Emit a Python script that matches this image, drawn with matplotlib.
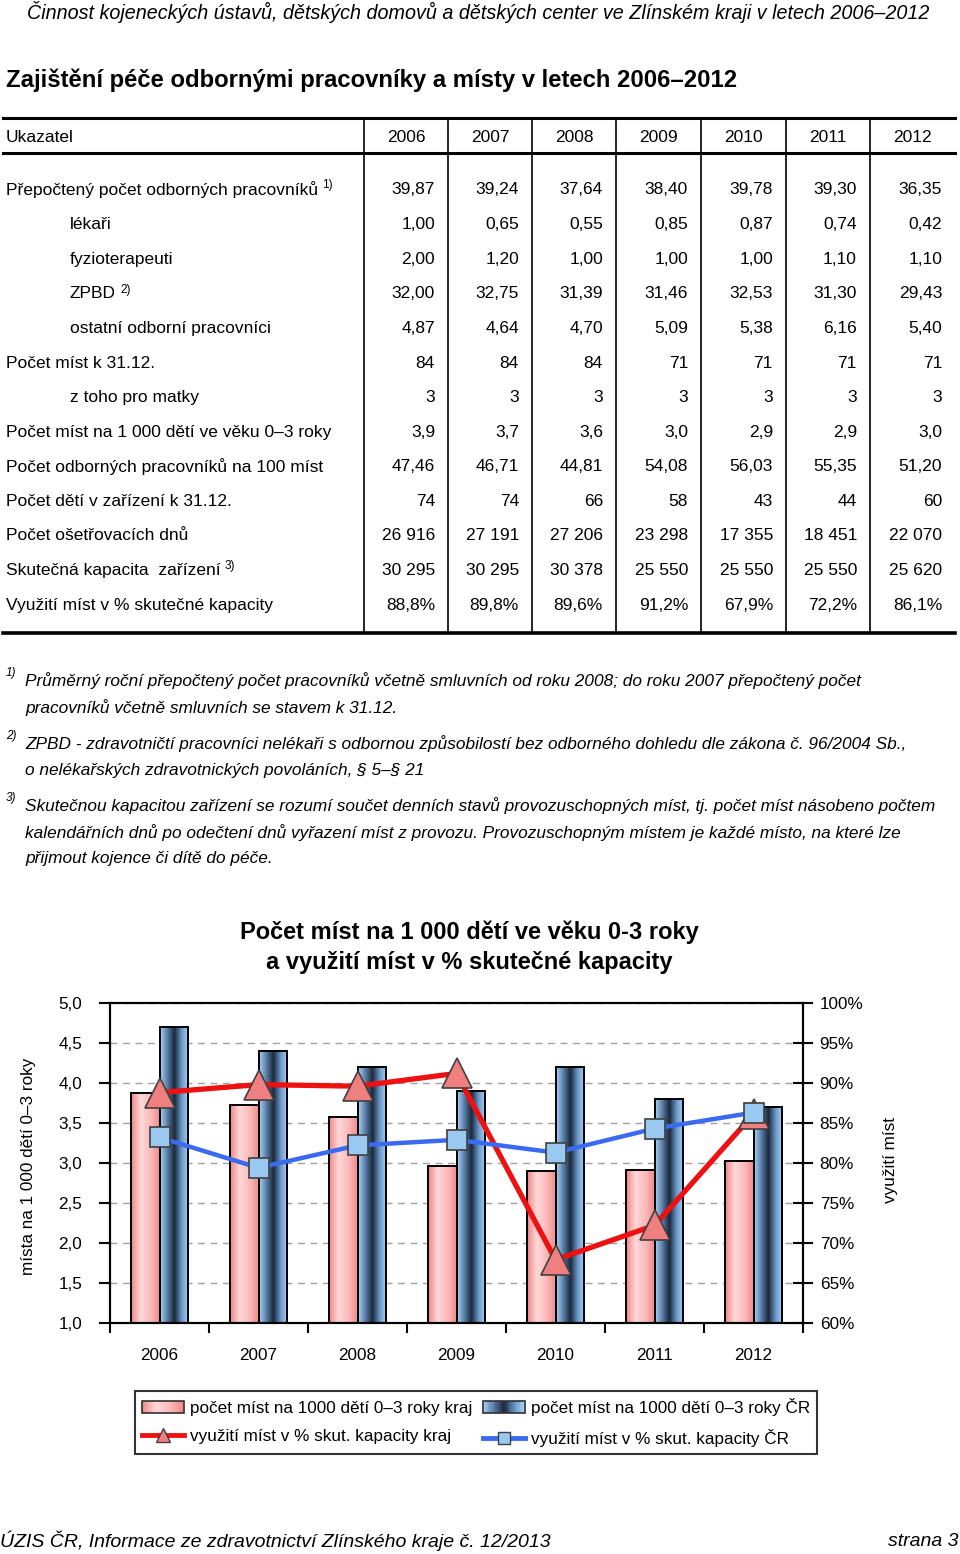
import numpy as np
import matplotlib
matplotlib.use('Agg')
import matplotlib.pyplot as plt
from matplotlib import font_manager
from matplotlib.colors import LinearSegmentedColormap
from matplotlib.lines import Line2D
from matplotlib.patches import Patch, Rectangle
from matplotlib.legend_handler import HandlerBase

# --- data ---------------------------------------------------------------
years = ['2006', '2007', '2008', '2009', '2010', '2011', '2012']

prepocteny = [39.87, 39.24, 37.64, 38.40, 39.78, 39.30, 36.35]
lekari = [1.00, 0.65, 0.55, 0.85, 0.87, 0.74, 0.42]
fyzio = [2.00, 1.20, 1.00, 1.00, 1.00, 1.10, 1.10]
zpbd = [32.00, 32.75, 31.39, 31.46, 32.53, 31.30, 29.43]
ostatni = [4.87, 4.64, 4.70, 5.09, 5.38, 6.16, 5.40]
mist = [84, 84, 84, 71, 71, 71, 71]
matky = [3, 3, 3, 3, 3, 3, 3]
mist_1000 = [3.9, 3.7, 3.6, 3.0, 2.9, 2.9, 3.0]
prac_100 = [47.46, 46.71, 44.81, 54.08, 56.03, 55.35, 51.20]
deti = [74, 74, 66, 58, 43, 44, 60]
osetr_dny = [26916, 27191, 27206, 23298, 17355, 18451, 22070]
kapacita = [30295, 30295, 30378, 25550, 25550, 25550, 25620]
vyuziti = [88.8, 89.8, 89.6, 91.2, 67.9, 72.2, 86.1]

kraj_mist = [3.88, 3.73, 3.57, 2.96, 2.90, 2.91, 3.03]
cr_mist = [4.70, 4.40, 4.20, 3.90, 4.20, 3.80, 3.70]
cr_vyuziti = [83.2, 79.4, 82.2, 82.9, 81.3, 84.3, 86.3]

names = {f.name for f in font_manager.fontManager.ttflist}
NARROW = 'Liberation Sans Narrow' if 'Liberation Sans Narrow' in names else 'Liberation Sans'
plt.rcParams['font.family'] = [NARROW, 'DejaVu Sans']


def f2(v):
    return f'{v:.2f}'.replace('.', ',')


def f1(v):
    return f'{v:.1f}'.replace('.', ',')


def fint(v):
    return f'{v:,}'.replace(',', ' ')


def fpct(v):
    return f'{v:.1f}%'.replace('.', ',')


rows = [
    ('Přepočtený počet odborných pracovníků', '1)', False, [f2(v) for v in prepocteny]),
    ('lékaři', None, True, [f2(v) for v in lekari]),
    ('fyzioterapeuti', None, True, [f2(v) for v in fyzio]),
    ('ZPBD', '2)', True, [f2(v) for v in zpbd]),
    ('ostatní odborní pracovníci', None, True, [f2(v) for v in ostatni]),
    ('Počet míst k 31.12.', None, False, [fint(v) for v in mist]),
    ('z toho pro matky', None, True, [fint(v) for v in matky]),
    ('Počet míst na 1 000 dětí ve věku 0–3 roky', None, False, [f1(v) for v in mist_1000]),
    ('Počet odborných pracovníků na 100 míst', None, False, [f2(v) for v in prac_100]),
    ('Počet dětí v zařízení k 31.12.', None, False, [fint(v) for v in deti]),
    ('Počet ošetřovacích dnů', None, False, [fint(v) for v in osetr_dny]),
    ('Skutečná kapacita  zařízení', '3)', False, [fint(v) for v in kapacita]),
    ('Využití míst v % skutečné kapacity', None, False, [fpct(v) for v in vyuziti]),
]

footnotes = [
    ('1)', ['Průměrný roční přepočtený počet pracovníků včetně smluvních od roku 2008; do roku 2007 přepočtený počet',
            'pracovníků včetně smluvních se stavem k 31.12.']),
    ('2)', ['ZPBD - zdravotničtí pracovníci nelékaři s odbornou způsobilostí bez odborného dohledu dle zákona č. 96/2004 Sb.,',
            'o nelékařských zdravotnických povoláních, § 5–§ 21']),
    ('3)', ['Skutečnou kapacitou zařízení se rozumí součet denních stavů provozuschopných míst, tj. počet míst násobeno počtem',
            'kalendářních dnů po odečtení dnů vyřazení míst z provozu. Provozuschopným místem je každé místo, na které lze',
            'přijmout kojence či dítě do péče.']),
]


class GradientHandler(HandlerBase):
    def __init__(self, cmap):
        super().__init__()
        self.cmap = cmap

    def create_artists(self, legend, orig_handle, xdescent, ydescent, width, height, fontsize, trans):
        n = 24
        arts = []
        for k in range(n):
            arts.append(Rectangle((-xdescent + width * k / n, -ydescent), width / n * 1.05, height,
                                  facecolor=self.cmap((k + 0.5) / n), edgecolor='none', transform=trans))
        arts.append(Rectangle((-xdescent, -ydescent), width, height, facecolor='none',
                              edgecolor='#303030', lw=1.2, transform=trans))
        return arts


# --- page ---------------------------------------------------------------
fig = plt.figure(figsize=(9.6, 15.54), dpi=100)
page = fig.add_axes([0, 0, 1, 1])
page.set_xlim(0, 960)
page.set_ylim(1554, 0)
page.axis('off')

FS = 12.5
page.text(27, 12, 'Činnost kojeneckých ústavů, dětských domovů a dětských center ve Zlínském kraji v letech 2006–2012',
          fontsize=14.2, style='italic', va='center')
page.text(6, 80, 'Zajištění péče odbornými pracovníky a místy v letech 2006–2012',
          fontsize=17.2, weight='bold', va='center')

# table
col_edges = [364, 448, 532, 616, 701, 786, 870, 955]
page.plot([3, 955], [118, 118], color='black', lw=2.2)
page.plot([3, 955], [153, 153], color='black', lw=2.2)
page.plot([3, 955], [633, 633], color='black', lw=2.6)
for xe in col_edges[:-1]:
    page.plot([xe, xe], [118, 633], color='black', lw=1.2)

page.text(6, 137, 'Ukazatel', fontsize=FS, va='center')
for i, yr in enumerate(years):
    page.text((col_edges[i] + col_edges[i + 1]) / 2, 137, yr, fontsize=FS, ha='center', va='center')

row_y0, row_step = 190, 34.6
for r, (label, sup, indent, vals) in enumerate(rows):
    y = row_y0 + r * row_step
    t = page.text(70 if indent else 6, y, label, fontsize=FS, va='center')
    if sup:
        page.annotate(sup, xy=(1, 1), xycoords=t, xytext=(3, 2), textcoords='offset points',
                      fontsize=8.5, va='top', ha='left')
    for i, v in enumerate(vals):
        page.text(col_edges[i + 1] - 13, y, v, fontsize=FS, ha='right', va='center')

# footnotes
fy = [681, 744, 806]
for (mark, lines), y0 in zip(footnotes, fy):
    page.text(6, y0 - 8, mark, fontsize=8.5, style='italic', va='center')
    for k, ln in enumerate(lines):
        page.text(25, y0 + k * 26.5, ln, fontsize=12.4, style='italic', va='center')

# footer
page.text(0, 1541, 'ÚZIS ČR, Informace ze zdravotnictví Zlínského kraje č. 12/2013',
          fontsize=14, style='italic', va='center')
page.text(958, 1541, 'strana 3', fontsize=14, style='italic', va='center', ha='right')

# chart title
page.text(469, 932, 'Počet míst na 1 000 dětí ve věku 0-3 roky', fontsize=17, weight='bold',
          ha='center', va='center', family=['Liberation Sans', 'DejaVu Sans'])
page.text(469, 963, 'a využití míst v % skutečné kapacity', fontsize=17, weight='bold',
          ha='center', va='center', family=['Liberation Sans', 'DejaVu Sans'])

# --- chart --------------------------------------------------------------
ax = fig.add_axes([110 / 960, (1554 - 1323) / 1554, 693 / 960, 320 / 1554])
x = np.arange(len(years))
w = 0.29
base = 1.0

pink_cmap = LinearSegmentedColormap.from_list('pink', ['#ee8585', '#ffd8d8', '#fbbcbc', '#ef8a8a'])
blue_cmap = LinearSegmentedColormap.from_list('blue', ['#a8d0f8', '#5a7ea6', '#1a283c', '#6a96c4', '#a8d4fc'])
grad = np.linspace(0, 1, 64).reshape(1, -1)

b1 = ax.bar(x - w / 2, np.array(kraj_mist) - base, w, bottom=base, facecolor='none',
            edgecolor='black', lw=1.4, zorder=3)
b2 = ax.bar(x + w / 2, np.array(cr_mist) - base, w, bottom=base, facecolor='none',
            edgecolor='black', lw=1.4, zorder=3)
for bars, cmap in ((b1, pink_cmap), (b2, blue_cmap)):
    for bar in bars:
        bx, by = bar.get_xy()
        im = ax.imshow(grad, cmap=cmap, extent=[bx, bx + bar.get_width(), by, by + bar.get_height()],
                       aspect='auto', zorder=2.5, interpolation='bilinear')
        im.set_clip_path(bar)

FS_AX = 12.3
ax.set_xlim(-0.5, 6.5)
ax.set_ylim(1, 5)
ax.set_yticks(np.arange(1, 5.01, 0.5))
ax.set_yticklabels([f1(v) for v in np.arange(1, 5.01, 0.5)])
ax.set_xticks(np.arange(-0.5, 7, 1))
ax.set_xticklabels([])
ax.set_xticks(x, minor=True)
ax.set_xticklabels(years, minor=True)
ax.tick_params(axis='x', which='major', direction='out', length=7, width=1.5)
ax.tick_params(axis='x', which='minor', length=0, pad=18, labelsize=FS_AX)
ax.tick_params(axis='y', direction='out', length=8, width=1.5, pad=12, labelsize=FS_AX)
ax.yaxis.grid(True, linestyle=(0, (5, 4)), color='#a0a0a0', lw=1)
for s in ax.spines.values():
    s.set_linewidth(1.5)
ax.set_ylabel('místa na 1 000 dětí 0–3 roky', fontsize=FS_AX)
ax.yaxis.set_label_coords(-0.107, 0.49)

ax2 = ax.twinx()
ax2.set_ylim(60, 100)
ax2.set_yticks(np.arange(60, 101, 5))
ax2.set_yticklabels([f'{v}%' for v in range(60, 101, 5)])
ax2.tick_params(axis='y', direction='inout', length=14, width=1.5, pad=5, labelsize=FS_AX)
for s in ax2.spines.values():
    s.set_linewidth(1.5)
ax2.plot(x, vyuziti, color='#ee1111', lw=3.8, marker='^', ms=21, mfc='#f08080', mec='#404040', mew=1.2, zorder=4)
ax2.plot(x, cr_vyuziti, color='#3a6af0', lw=3.2, marker='s', ms=14, mfc='#99c8f0', mec='#404040', mew=1.2, zorder=5)
ax2.set_ylabel('využití míst', fontsize=FS_AX)
ax2.yaxis.set_label_coords(1.115, 0.51)

h_kraj = Patch(label='počet míst na 1000 dětí 0–3 roky kraj')
h_cr = Patch(label='počet míst na 1000 dětí 0–3 roky ČR')
handles = [
    h_kraj,
    Line2D([], [], color='#ee1111', lw=3.5, marker='^', ms=10, mfc='#f08080', mec='#404040',
           label='využití míst v % skut. kapacity kraj'),
    h_cr,
    Line2D([], [], color='#3a6af0', lw=3.5, marker='s', ms=9, mfc='#99c8f0', mec='#404040',
           label='využití míst v % skut. kapacity ČR'),
]
leg = fig.legend(handles=handles, ncol=2, loc='center', bbox_to_anchor=(476 / 960, 131.5 / 1554),
                 handler_map={h_kraj: GradientHandler(pink_cmap), h_cr: GradientHandler(blue_cmap)},
                 fontsize=FS_AX, frameon=True, fancybox=False, edgecolor='black', handlelength=2.45,
                 handletextpad=0.35, columnspacing=0.65, borderpad=0.4, labelspacing=0.8)
leg.get_frame().set_linewidth(1.5)

fig.savefig('out.png', dpi=100)
